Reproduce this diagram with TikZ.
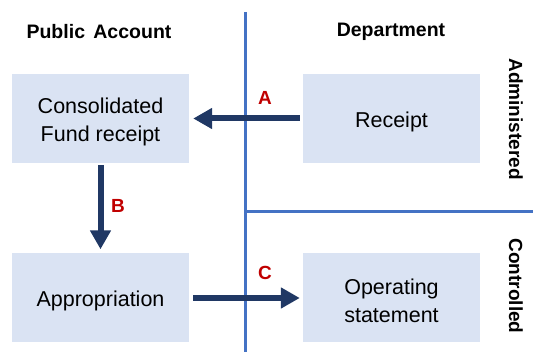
\documentclass[tikz,border=0pt]{standalone}
\usepackage{fontspec}
\setmainfont{Liberation Sans}
\usetikzlibrary{arrows.meta}
\definecolor{boxfill}{HTML}{DAE3F3}
\definecolor{divline}{HTML}{4472C4}
\definecolor{arrowc}{HTML}{203864}
\definecolor{labred}{HTML}{C00000}
\begin{document}
\begin{tikzpicture}[x=1pt,y=-1pt,
  flowbox/.style={fill=boxfill,draw=none,minimum width=177pt,minimum height=89pt,inner sep=0pt},
  boxtext/.style={inner sep=0pt,align=center,yshift=-3pt,font=\fontsize{21.5}{28}\selectfont},
  heading/.style={font=\bfseries\fontsize{19.5}{23}\selectfont,inner sep=0pt},
  side/.style={font=\bfseries\fontsize{19}{23}\selectfont,inner sep=0pt,rotate=-90},
  letter/.style={font=\bfseries\fontsize{19}{22}\selectfont,text=labred,inner sep=0pt},
  flow/.style={draw=arrowc,line width=6pt,-{Triangle[width=20pt,length=19pt]}},
  divider/.style={draw=divline,line width=3pt}]
\useasboundingbox (0,0) rectangle (533,352);
% dividers
\coordinate (vtop) at (245,12);
\coordinate (vbot) at (245,352);
\coordinate (hl) at (245,212);
\coordinate (hr) at (533,212);
\draw[divider] (vtop) -- (vbot);
\draw[divider] (hl) -- (hr);
% headings
\node[heading] (hpa) at (99,32) {Public\hspace{0.15em} Account};
\node[heading] (hdp) at (391,32) {Department};
\node[side] (sadm) at (516,119) {Administered};
\node[side] (sctl) at (516,286) {Controlled};
% boxes
\node[flowbox] (cf) at (100.5,118.5) {};
\node[flowbox] (rc) at (391.5,118.5) {};
\node[flowbox] (ap) at (100.5,298) {};
\node[flowbox] (op) at (391.5,298) {};
\node[boxtext] (cft) at (cf.center) {Consolidated\\Fund receipt};
\node[boxtext] (rct) at (rc.center) {Receipt};
\node[boxtext] (apt) at (ap.center) {Appropriation};
\node[boxtext] (opt) at (op.center) {Operating\\statement};
% arrows
\draw[flow,shorten <=3pt,shorten >=4pt] (rc.west) -- (cf.east);
\draw[flow,shorten <=2pt,shorten >=4pt] (cf.south) -- (ap.north);
\draw[flow,shorten <=4pt,shorten >=3pt] (ap.east) -- (op.west);
% letters
\node[letter] (la) at (265,98) {A};
\node[letter] (lb) at (118,206) {B};
\node[letter] (lc) at (265,273) {C};
\end{tikzpicture}
\end{document}
